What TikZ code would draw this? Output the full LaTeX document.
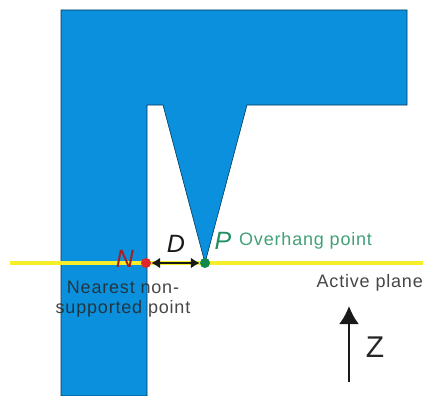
\documentclass[tikz,border=0pt]{standalone}
\usepackage{fontspec}
\setmainfont{Liberation Sans}
\newfontfamily\widefont[LetterSpace=4.5]{Liberation Sans}
\usetikzlibrary{arrows.meta, positioning}
\definecolor{partblue}{HTML}{0A90DC}
\definecolor{planeyellow}{HTML}{F6EE2A}
\definecolor{pointgreen}{HTML}{0F8A4C}
\definecolor{pointred}{HTML}{E0252B}
\definecolor{labelgreen}{HTML}{1F8F5F}

\begin{document}
\begin{tikzpicture}[
    x=1pt, y=-1pt,
    point/.style={circle, inner sep=0pt, minimum size=10pt},
    label/.style={inner sep=0pt, font=\fontsize{18}{20}\widefont, text=black!85, text opacity=0.85, align=center},
    symbol/.style={inner sep=0pt, font=\fontsize{25}{25}\selectfont\itshape},
    arrow/.style={{Latex[length=9pt,width=11pt]}-{Latex[length=9pt,width=11pt]}, line width=2pt, black!90},
    zarrow/.style={-{Latex[length=18pt,width=20pt]}, line width=2.6pt, black!90},
]
    \useasboundingbox (0,0) rectangle (423,396);

    % the part
    \fill[partblue, draw=black!60!partblue, line width=0.6pt] (61,10) -- (407,10) -- (407,105) -- (247,105) -- (205,263) -- (163,105) -- (147,105) -- (147,396) -- (61,396) -- cycle;

    % active plane
    \coordinate (planeL) at (10,263);
    \coordinate (planeR) at (423,263);
    \draw[planeyellow, line width=4.5pt] (planeL) -- (planeR);

    \node[point, fill=pointred] (N) at (146,263) {};
    \node[point, fill=pointgreen] (P) at (205,263) {};
    \draw[arrow] (N) -- (P);

    \node[symbol, text=pointred!75!black] (labN) at (125,259) {N};
    \node[symbol, text=black!90] (labD) at (176,244) {D};
    \node[symbol, text=labelgreen] (labP) at (223,241) {P};
    \node[label, text=labelgreen, anchor=west] (over) at (239,241) {Overhang point};
    \node[label] (near) at (123,299) {Nearest non-\\supported point};
    \node[label, anchor=east] (active) at (423,283) {Active plane};

    \coordinate (zS) at (349,382);
    \coordinate (zE) at (349,306);
    \draw[zarrow] (zS) -- (zE);
    \node[inner sep=0pt, font=\fontsize{30}{30}\selectfont, text=black!85] (z) at (375,347) {Z};
\end{tikzpicture}
\end{document}
